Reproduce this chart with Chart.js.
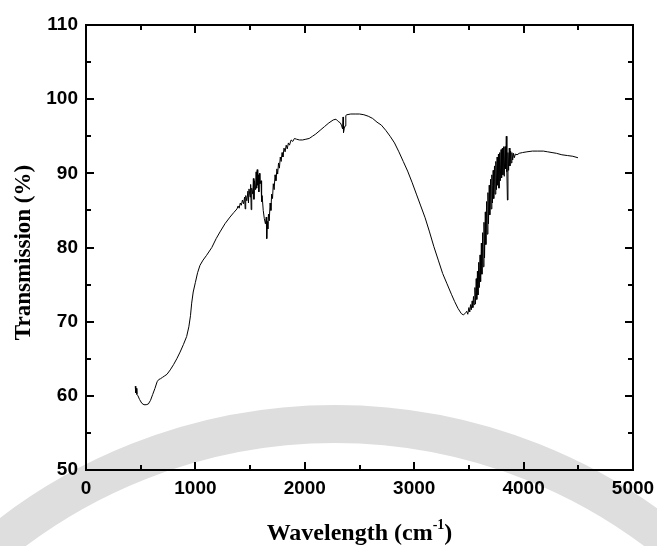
<!DOCTYPE html>
<html>
<head>
<meta charset="utf-8">
<script src="https://cdn.jsdelivr.net/npm/chart.js@4.4.1/dist/chart.umd.min.js"></script>
<style>
  html, body { margin: 0; padding: 0; background: #fff; }
  #wrap { width: 657px; height: 546px; }
</style>
</head>
<body>
<div id="wrap"><canvas id="c" width="657" height="546"></canvas></div>
<script>
// FTIR transmission spectrum
const wavenumber = [
  450, 455, 460, 465, 475, 490, 510, 530, 550, 570, 590, 610, 630, 650, 665, 680, 700, 720, 740, 770,
  800, 830, 860, 890, 920, 940, 955, 966, 980, 1000, 1020, 1042, 1070, 1100, 1150, 1190, 1225, 1270, 1316, 1350,
  1380, 1390, 1400, 1410, 1420, 1430, 1440, 1450, 1455, 1460, 1470, 1480, 1485, 1490, 1500, 1505, 1510, 1515, 1525, 1530,
  1535, 1540, 1550, 1555, 1560, 1565, 1570, 1575, 1580, 1585, 1590, 1600, 1605, 1610, 1620, 1630, 1640, 1648, 1652, 1657,
  1662, 1668, 1675, 1683, 1690, 1697, 1705, 1712, 1720, 1728, 1736, 1745, 1752, 1760, 1768, 1776, 1784, 1792, 1800, 1810,
  1820, 1830, 1840, 1850, 1860, 1875, 1890, 1905, 1925, 1950, 1980, 2010, 2040, 2070, 2100, 2140, 2180, 2220, 2260, 2285,
  2305, 2325, 2335, 2345, 2350, 2354, 2360, 2368, 2375, 2385, 2420, 2460, 2500, 2540, 2580, 2620, 2660, 2700, 2740, 2780,
  2820, 2860, 2900, 2940, 2980, 3020, 3060, 3100, 3140, 3180, 3220, 3260, 3300, 3340, 3370, 3400, 3430, 3450, 3470, 3480,
  3490, 3500, 3508, 3515, 3522, 3530, 3536, 3542, 3548, 3555, 3560, 3567, 3572, 3578, 3583, 3590, 3595, 3602, 3607, 3614,
  3619, 3626, 3631, 3638, 3643, 3650, 3655, 3662, 3667, 3674, 3679, 3686, 3691, 3698, 3703, 3710, 3715, 3722, 3727, 3734,
  3739, 3746, 3751, 3758, 3763, 3770, 3775, 3782, 3787, 3794, 3799, 3806, 3811, 3818, 3823, 3830, 3835, 3842, 3847, 3852,
  3857, 3863, 3869, 3875, 3881, 3887, 3893, 3900, 3908, 3915, 3925, 3940, 3960, 3990, 4030, 4080, 4130, 4180, 4220, 4260,
  4300, 4350, 4400, 4450, 4497
];
const transmission = [
  61.3, 60.4, 61.0, 60.2, 60.0, 59.5, 59.0, 58.8, 58.8, 58.9, 59.4, 60.2, 61.0, 61.9, 62.2, 62.3, 62.5, 62.7, 62.9, 63.5,
  64.2, 65.0, 65.9, 66.9, 68.0, 69.3, 70.8, 72.5, 74.0, 75.3, 76.6, 77.6, 78.3, 78.9, 80.0, 81.2, 82.1, 83.2, 84.1, 84.7,
  85.2, 85.6, 85.3, 86.0, 85.7, 86.4, 85.9, 86.8, 85.2, 87.0, 86.3, 87.6, 86.0, 87.9, 86.8, 88.5, 85.1, 88.0, 87.2, 89.3,
  86.5, 89.0, 87.8, 90.2, 88.0, 90.5, 88.4, 89.8, 87.5, 90.0, 88.6, 89.0, 86.2, 87.0, 85.0, 83.9, 83.2, 84.1, 81.2, 83.5,
  82.5, 84.5, 83.6, 86.0, 85.0, 87.2, 86.6, 88.6, 87.8, 89.8, 89.0, 90.6, 89.9, 91.4, 90.7, 92.2, 91.6, 92.8, 92.2, 93.4,
  92.9, 93.8, 93.3, 94.1, 93.8, 94.5, 94.3, 94.7, 94.6, 94.5, 94.5, 94.6, 94.7, 95.0, 95.3, 95.8, 96.3, 96.8, 97.2, 97.3,
  97.0, 96.8, 96.5, 96.0, 97.6, 95.5, 96.0, 96.4, 97.8, 97.9, 98.0, 98.0, 98.0, 97.9, 97.7, 97.4, 96.9, 96.5, 95.8, 95.0,
  94.1, 92.9, 91.6, 90.3, 88.8, 87.2, 85.6, 84.0, 82.1, 80.1, 78.3, 76.5, 75.1, 73.7, 72.7, 71.8, 71.1, 70.9, 71.2, 71.4,
  71.0, 71.9, 71.3, 72.3, 71.6, 72.8, 71.9, 73.4, 72.3, 74.6, 72.4, 75.8, 73.0, 76.8, 73.6, 78.0, 74.6, 79.0, 75.4, 80.6,
  76.4, 82.0, 77.4, 83.4, 78.6, 84.8, 80.4, 86.2, 81.8, 87.4, 83.2, 88.4, 84.4, 89.2, 85.2, 89.8, 86.0, 90.4, 86.6, 91.0,
  87.2, 91.6, 87.8, 92.2, 88.4, 92.6, 88.0, 92.8, 89.0, 93.2, 89.4, 93.4, 89.8, 93.6, 89.6, 93.6, 90.6, 95.0, 90.2, 86.4,
  92.8, 90.4, 93.4, 91.0, 93.0, 91.4, 92.8, 91.8, 92.7, 92.1, 92.6, 92.5, 92.7, 92.8, 92.9, 93.0, 93.0, 93.0, 92.9, 92.8,
  92.7, 92.5, 92.4, 92.3, 92.1
];

const xTicks = [0, 1000, 2000, 3000, 4000, 5000];
const xMinorTicks = [500, 1500, 2500, 3500, 4500];
const yTicks = [50, 60, 70, 80, 90, 100, 110];
const yMinorTicks = [55, 65, 75, 85, 95, 105];

const yTitle = 'Transmission (%)';
const xTitleMain = 'Wavelength (cm';
const xTitleSup = '-1';
const xTitleEnd = ')';

const tickFont = { family: 'Liberation Sans', weight: 'bold', size: 19 };
const titleFamily = '"Liberation Serif", "Times New Roman", serif';

// faint institutional seal arc behind the plot
const sealPlugin = {
  id: 'seal',
  beforeDraw(chart) {
    const ctx = chart.ctx;
    ctx.save();
    ctx.strokeStyle = '#dedede';
    ctx.lineWidth = 38;
    ctx.beginPath();
    ctx.arc(335, 958, 534, Math.PI, 2 * Math.PI);
    ctx.stroke();
    ctx.restore();
  }
};

// closed frame with inward major and minor ticks on all four sides
const framePlugin = {
  id: 'frame',
  afterDraw(chart) {
    const ctx = chart.ctx;
    const { left, right, top, bottom } = chart.chartArea;
    const xs = chart.scales.x, ys = chart.scales.y;
    ctx.save();
    ctx.strokeStyle = '#000';
    ctx.lineWidth = 2;
    ctx.strokeRect(left, top, right - left, bottom - top);
    const major = 8, minor = 5;
    ctx.beginPath();
    const vx = (v, len) => {
      const p = Math.round(xs.getPixelForValue(v));
      ctx.moveTo(p, bottom); ctx.lineTo(p, bottom - len);
      ctx.moveTo(p, top); ctx.lineTo(p, top + len);
    };
    const vy = (v, len) => {
      const p = Math.round(ys.getPixelForValue(v));
      ctx.moveTo(left, p); ctx.lineTo(left + len, p);
      ctx.moveTo(right, p); ctx.lineTo(right - len, p);
    };
    xTicks.forEach(v => vx(v, major));
    xMinorTicks.forEach(v => vx(v, minor));
    yTicks.forEach(v => vy(v, major));
    yMinorTicks.forEach(v => vy(v, minor));
    ctx.stroke();
    ctx.restore();
  }
};

// axis titles, with a raised exponent in the x title
const titlePlugin = {
  id: 'axisTitles',
  afterDraw(chart) {
    const ctx = chart.ctx;
    const { left, right, top, bottom } = chart.chartArea;
    ctx.save();
    ctx.fillStyle = '#000';
    // y title
    ctx.save();
    ctx.translate(24, (top + bottom) / 2 + 5);
    ctx.rotate(-Math.PI / 2);
    ctx.font = 'bold 23px ' + titleFamily;
    ctx.textAlign = 'center';
    ctx.textBaseline = 'middle';
    ctx.fillText(yTitle, 0, 0);
    ctx.restore();
    // x title
    const big = 'bold 24px ' + titleFamily;
    const small = 'bold 14px ' + titleFamily;
    ctx.textBaseline = 'alphabetic';
    ctx.textAlign = 'left';
    ctx.font = big;
    const w1 = ctx.measureText(xTitleMain).width;
    const w3 = ctx.measureText(xTitleEnd).width;
    ctx.font = small;
    const w2 = ctx.measureText(xTitleSup).width;
    const total = w1 + w2 + w3;
    let x = (left + right) / 2 - total / 2;
    const base = 540;
    ctx.font = big;
    ctx.fillText(xTitleMain, x, base);
    x += w1;
    ctx.font = small;
    ctx.fillText(xTitleSup, x, base - 11);
    x += w2;
    ctx.font = big;
    ctx.fillText(xTitleEnd, x, base);
    ctx.restore();
  }
};

const points = wavenumber.map((w, i) => ({ x: w, y: transmission[i] }));

new Chart(document.getElementById('c'), {
  type: 'line',
  data: {
    datasets: [{
      data: points,
      borderColor: '#000',
      borderWidth: 1,
      pointRadius: 0,
      tension: 0,
      fill: false
    }]
  },
  options: {
    responsive: false,
    animation: false,
    devicePixelRatio: 1,
    layout: { padding: { top: 25, right: 24, left: 0, bottom: 0 } },
    plugins: { legend: { display: false }, tooltip: { enabled: false } },
    scales: {
      x: {
        type: 'linear',
        min: 0,
        max: 5000,
        afterBuildTicks: s => { s.ticks = xTicks.map(v => ({ value: v })); },
        afterFit: s => { s.height = 76; s.paddingLeft = 0; s.paddingRight = 0; },
        ticks: { font: tickFont, color: '#000', padding: 7, maxRotation: 0, autoSkip: false, callback: v => String(v) },
        grid: { display: false, drawTicks: false },
        border: { display: false }
      },
      y: {
        type: 'linear',
        min: 50,
        max: 110,
        afterBuildTicks: s => { s.ticks = yTicks.map(v => ({ value: v })); },
        afterFit: s => { s.width = 86; s.paddingTop = 0; s.paddingBottom = 0; },
        ticks: { font: tickFont, color: '#000', padding: 8, autoSkip: false, callback: v => String(v) },
        grid: { display: false, drawTicks: false },
        border: { display: false }
      }
    }
  },
  plugins: [sealPlugin, framePlugin, titlePlugin]
});
</script>
</body>
</html>
